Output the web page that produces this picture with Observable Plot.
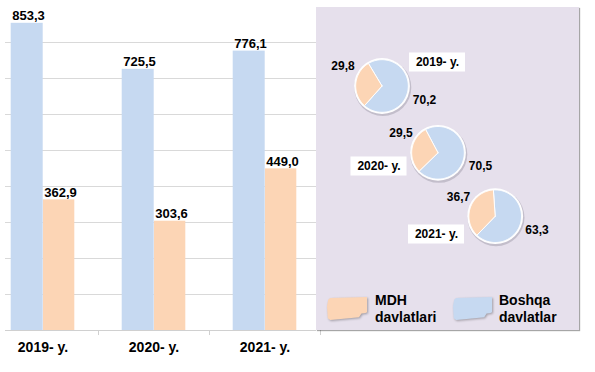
<!DOCTYPE html>
<html>
<head>
<meta charset="utf-8">
<script src="https://cdn.jsdelivr.net/npm/d3@7"></script>
<script src="https://cdn.jsdelivr.net/npm/@observablehq/plot@0.6"></script>
<style>
  body { margin: 0; background: #fff; }
  #wrap { position: relative; width: 595px; height: 372px; overflow: hidden;
          font-family: "Liberation Sans", Arial, sans-serif; }
  #bars { position: absolute; left: 0; top: 0; }
  #panel { position: absolute; left: 316px; top: 7px; width: 263px; height: 323px;
           background: #e6e0ec; box-shadow: 1px 1px 1px rgba(0,0,0,0.35); }
  #pies { position: absolute; left: 0; top: 0; }
  .leg { position: absolute; font-weight: bold; font-size: 14px; line-height: 16.7px; color: #000; }
  .sw { position: absolute; filter: drop-shadow(1px 1px 0.8px rgba(0,0,0,0.3)); }
  .sw div { width: 100%; height: 100%;
            clip-path: polygon(3% 12%, 8% 4%, 100% 0%, 100% 66%, 96% 70%, 86% 72%, 80% 88%, 8% 100%, 2% 92%, 0% 40%); }
</style>
</head>
<body>
<div id="wrap">
  <div id="bars"></div>
  <div id="panel">
    <div id="pies"></div>
    <div class="sw" style="left:11px;top:290px;width:40px;height:23px;"><div id="swMdh"></div></div>
    <div class="leg" id="legMdh" style="left:59px;top:285px;"></div>
    <div class="sw" style="left:137px;top:290px;width:39px;height:23px;"><div id="swBoshqa"></div></div>
    <div class="leg" id="legBoshqa" style="left:183px;top:285px;"></div>
  </div>
</div>
<script>
// ---------- data ----------
const years = ["2019- y.", "2020- y.", "2021- y."];
const boshqaValues = [853.3, 725.5, 776.1];   // Boshqa davlatlar
const mdhValues = [362.9, 303.6, 449.0];      // MDH davlatlari
const mdhShares = [29.8, 29.5, 36.7];
const boshqaShares = [70.2, 70.5, 63.3];
const seriesNames = ["MDH davlatlari", "Boshqa davlatlar"];
const legendLines = [["MDH", "davlatlari"], ["Boshqa", "davlatlar"]];
const gridTicks = [100, 200, 300, 400, 500, 600, 700, 800];

// ---------- styles / layout ----------
const BLUE = "#c6d9f1";
const ORANGE = "#fcd5b5";
const FONT = "'Liberation Sans', Arial, sans-serif";
const fmt = v => v.toFixed(1).replace(".", ",");

// ---------- bar chart ----------
const barData = years.map((y, i) => ({year: y, boshqa: boshqaValues[i], mdh: mdhValues[i]}));

const bars = Plot.plot({
  width: 324, height: 372,
  marginTop: 6, marginBottom: 42, marginLeft: 5, marginRight: 8,
  style: {fontFamily: FONT, background: "transparent", overflow: "visible"},
  x: {domain: years, range: [-13, 320], padding: 0, axis: null},
  y: {domain: [0, 900], axis: null},
  marks: [
    Plot.ruleY(gridTicks, {stroke: "#d9d9d9", strokeWidth: 1}),
    Plot.barY(barData, {x: "year", y: "boshqa", fill: BLUE, insetLeft: 23.7, insetRight: 55.3}),
    Plot.barY(barData, {x: "year", y: "mdh", fill: ORANGE, insetLeft: 56, insetRight: 23.7}),
    Plot.ruleY([0], {stroke: "#d0d0d0", strokeWidth: 1}),
    Plot.ruleX(years, {x: d => d, dx: 55.5, y1: 0, y2: -14, stroke: "#d0d0d0"}),
    Plot.text(barData, {x: "year", y: "boshqa", text: d => fmt(d.boshqa), dx: -14.5, dy: -3,
      lineAnchor: "bottom", fontSize: 13, fontWeight: "bold", fill: "#000"}),
    Plot.text(barData, {x: "year", y: "mdh", text: d => fmt(d.mdh), dx: 17.5, dy: -3,
      lineAnchor: "bottom", fontSize: 13, fontWeight: "bold", fill: "#000"}),
    Plot.text(barData, {x: "year", y: 0, text: "year", dy: 12, lineAnchor: "top",
      fontSize: 14, fontWeight: "bold", fill: "#000"})
  ]
});
document.getElementById("bars").appendChild(bars);

// ---------- pies ----------
const pieLayout = [
  {cx: 65.5, cy: 78.5, start: -31, minor: [26.5, 59], major: [108, 92.5], box: [121, 55]},
  {cx: 121.5, cy: 145.3, start: -28, minor: [84.5, 126], major: [164, 158.5], box: [62.5, 159]},
  {cx: 178.7, cy: 208.7, start: -4, minor: [142, 190], major: [220.5, 223], box: [120, 227]}
];
const R = 26.3;

const slicePts = [];
years.forEach((yr, i) => {
  const L = pieLayout[i];
  const parts = [{s: seriesNames[1], v: boshqaShares[i]}, {s: seriesNames[0], v: mdhShares[i]}];
  let a = L.start;
  parts.forEach(p => {
    const a1 = a + p.v * 3.6;
    const key = yr + "|" + p.s;
    slicePts.push({key, s: p.s, x: L.cx, y: L.cy});
    const n = Math.ceil((a1 - a) / 2);
    for (let k = 0; k <= n; k++) {
      const t = (a + (a1 - a) * k / n) * Math.PI / 180;
      slicePts.push({key, s: p.s, x: L.cx + R * Math.sin(t), y: L.cy - R * Math.cos(t)});
    }
    slicePts.push({key, s: p.s, x: L.cx, y: L.cy});
    a = a1;
  });
});

const pieLabels = [];
years.forEach((yr, i) => {
  const L = pieLayout[i];
  pieLabels.push({x: L.minor[0], y: L.minor[1], t: fmt(mdhShares[i])});
  pieLabels.push({x: L.major[0], y: L.major[1], t: fmt(boshqaShares[i])});
});
const yearBoxes = years.map((yr, i) => ({x: pieLayout[i].box[0], y: pieLayout[i].box[1], t: yr}));

const pies = Plot.plot({
  width: 263, height: 323, margin: 0,
  style: {fontFamily: FONT, background: "transparent"},
  x: {domain: [0, 263], range: [0, 263], axis: null},
  y: {domain: [0, 323], range: [0, 323], axis: null},
  color: {domain: seriesNames, range: [ORANGE, BLUE]},
  marks: [
    Plot.dot(pieLayout, {x: "cx", y: "cy", r: R + 2.2, fill: "#9a94a3", fillOpacity: 0.45, dx: 0.8, dy: 1.5}),
    Plot.dot(pieLayout, {x: "cx", y: "cy", r: R + 1.6, fill: "white"}),
    Plot.line(slicePts, {x: "x", y: "y", z: "key", fill: "s", stroke: "white", strokeWidth: 1,
      strokeLinejoin: "round", curve: "linear"}),
    Plot.rect(yearBoxes, {x1: d => d.x - 28, x2: d => d.x + 28, y1: d => d.y - 9.5, y2: d => d.y + 9.5, fill: "white"}),
    Plot.text(yearBoxes, {x: "x", y: "y", text: "t", fontSize: 12, fontWeight: "bold", fill: "#000"}),
    Plot.text(pieLabels, {x: "x", y: "y", text: "t", fontSize: 12, fontWeight: "bold", fill: "#000"})
  ]
});
document.getElementById("pies").appendChild(pies);

// ---------- legend ----------
document.getElementById("swMdh").style.background = ORANGE;
document.getElementById("swBoshqa").style.background = BLUE;
document.getElementById("legMdh").innerHTML = legendLines[0].join("<br>");
document.getElementById("legBoshqa").innerHTML = legendLines[1].join("<br>");
</script>
</body>
</html>
